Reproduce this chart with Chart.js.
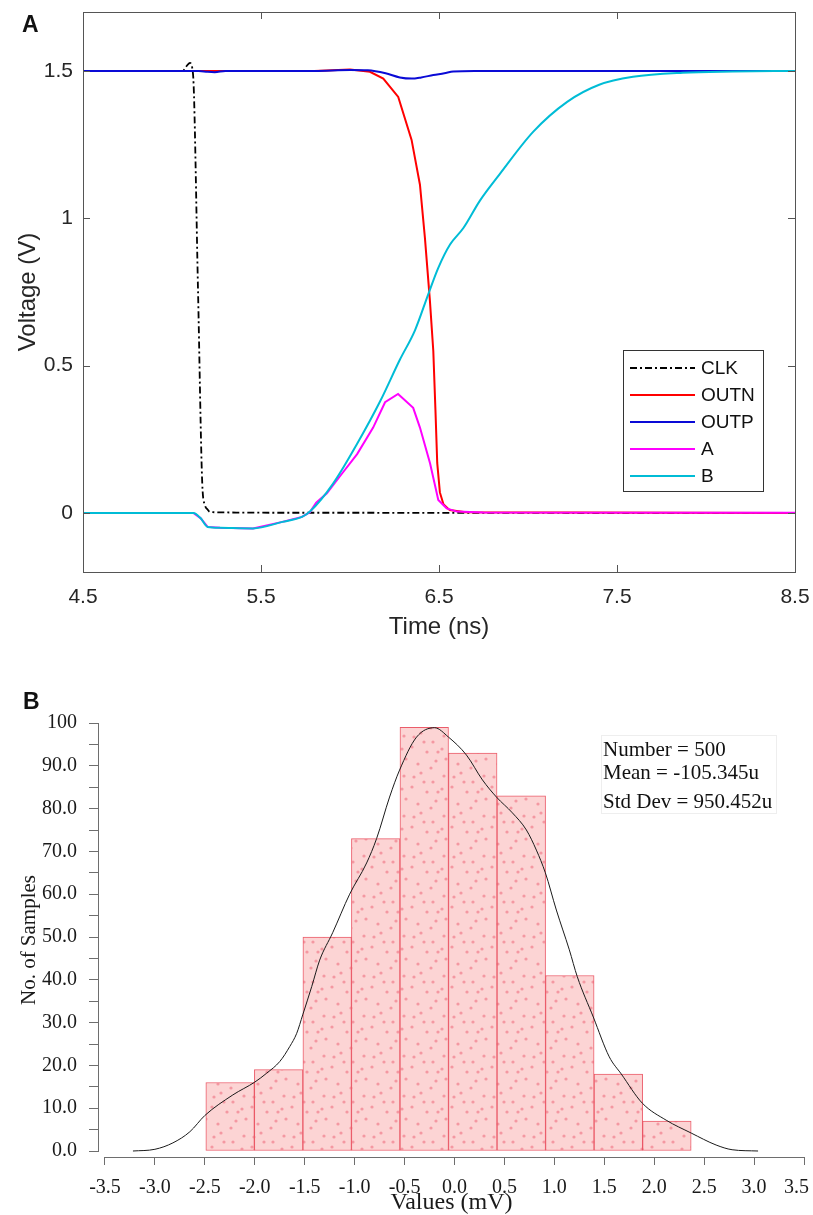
<!DOCTYPE html>
<html>
<head>
<meta charset="utf-8">
<title>Comparator transient and offset histogram</title>
<script src="https://cdn.jsdelivr.net/npm/chart.js@4.4.1/dist/chart.umd.min.js"></script>
<style>
  body { margin: 0; background: #fff; }
  #page { position: relative; width: 813px; height: 1215px; overflow: hidden; }
  canvas { position: absolute; left: 0; }
  #waveChart { top: 0; }
  #histChart { top: 650px; }
  .tag { position: absolute; font: bold 23px "Liberation Sans", Arial, sans-serif; color: #111; }
  #stats { position: absolute; left: 601px; top: 735px; width: 176px; height: 79px;
           border: 1px solid #eeeeee; box-sizing: border-box;
           font: 21px "Liberation Serif", "Times New Roman", serif; color: #111; }
  #stats span { position: absolute; left: 1px; white-space: nowrap; line-height: 24px; }
</style>
</head>
<body>
<div id="page">
  <canvas id="waveChart" width="813" height="650"></canvas>
  <canvas id="histChart" width="813" height="565"></canvas>
  <div class="tag" style="left:22px; top:11px;">A</div>
  <div class="tag" style="left:23px; top:688px;">B</div>
  <div id="stats">
    <span style="top:1px;">Number = 500</span>
    <span style="top:24px;">Mean = -105.345u</span>
    <span style="top:53px;">Std Dev = 950.452u</span>
  </div>
</div>
<script>
// transient waveforms (time in ns, voltage in V)
const clkT = [4.5, 5.0, 5.062, 5.08, 5.1, 5.118, 5.146, 5.17, 5.185, 5.2, 5.213, 5.3, 5.6, 6.0, 6.6, 8.5];
const clkV = [1.5, 1.5, 1.501, 1.515, 1.527, 1.49, 0.76, 0.1, 0.027, 0.012, 0.004, 0.002, 0.001, 0.001, 0.0005, 0];

const outnT = [4.5, 5.8, 6.0, 6.112, 6.187, 6.271, 6.346, 6.393, 6.421, 6.449, 6.468, 6.48, 6.49, 6.505, 6.525, 6.56, 6.65, 8.5];
const outnV = [1.5, 1.5, 1.505, 1.497, 1.474, 1.412, 1.266, 1.114, 0.933, 0.72, 0.55, 0.35, 0.17, 0.07, 0.03, 0.01, 0.003, 0];

const outpT = [4.5, 5.15, 5.2, 5.24, 5.3, 5.8, 6.0, 6.1, 6.2, 6.28, 6.346, 6.4, 6.468, 6.53, 6.58, 6.7, 8.5];
const outpV = [1.5, 1.5, 1.497, 1.496, 1.5, 1.5, 1.503, 1.502, 1.492, 1.478, 1.474, 1.478, 1.486, 1.492, 1.498, 1.5, 1.5];

const aT = [4.5, 5.1, 5.12, 5.16, 5.2, 5.27, 5.455, 5.62, 5.73, 5.775, 5.81, 5.87, 5.95, 6.04, 6.13, 6.197, 6.27, 6.355, 6.393, 6.45, 6.496, 6.543, 6.6, 6.75, 8.5];
const aV = [0, 0, 0, -0.017, -0.047, -0.05, -0.052, -0.03, -0.013, 0.003, 0.035, 0.067, 0.13, 0.2, 0.29, 0.376, 0.404, 0.357, 0.29, 0.168, 0.044, 0.016, 0.005, 0.002, 0.001];

const bT = [4.5, 5.1, 5.12, 5.16, 5.2, 5.27, 5.455, 5.62, 5.73, 5.775, 5.905, 6.04, 6.17, 6.28, 6.365, 6.44, 6.496, 6.562, 6.637, 6.73, 6.84, 7.03, 7.22, 7.4, 7.59, 7.87, 8.15, 8.5];
const bV = [0, 0, 0, -0.017, -0.047, -0.05, -0.052, -0.03, -0.013, 0.005, 0.1, 0.235, 0.38, 0.52, 0.62, 0.743, 0.832, 0.911, 0.967, 1.06, 1.149, 1.294, 1.395, 1.453, 1.48, 1.494, 1.498, 1.5];

const waveTicksX = [4.5, 5.5, 6.5, 7.5, 8.5];
const waveTicksY = [0, 0.5, 1, 1.5];

// offset histogram (mV) and its density curve
const binCenters = [-2.247, -1.761, -1.275, -0.789, -0.303, 0.183, 0.669, 1.155, 1.641, 2.127];
const binCounts = [16, 19, 50, 73, 99, 93, 83, 41, 18, 7];

const densX = [-3.22, -3.0, -2.82, -2.65, -2.5, -2.22, -2.0, -1.88, -1.75, -1.65, -1.58, -1.52, -1.43, -1.35, -1.22, -1.05, -0.88, -0.78, -0.65, -0.55, -0.38, -0.2, -0.06, 0.12, 0.28, 0.42, 0.58, 0.72, 0.82, 0.91, 1.02, 1.15, 1.23, 1.39, 1.55, 1.67, 1.88, 2.12, 2.37, 2.62, 2.78, 3.04];
const densY = [0, 0.4, 1.9, 4.5, 8.3, 13.1, 16.1, 18.2, 20.9, 24.4, 27.5, 31.8, 38.4, 44.6, 51, 60, 67.3, 73, 82.7, 89, 96.7, 98.9, 96.7, 92.5, 86.7, 82.7, 79, 75, 70.3, 65, 56.3, 47, 40.7, 31.3, 22, 18, 11.2, 7.2, 4.2, 1.4, 0.3, 0];

const histTicksX = [-3.5, -3.0, -2.5, -2.0, -1.5, -1.0, -0.5, 0.0, 0.5, 1.0, 1.5, 2.0, 2.5, 3.0, 3.5];
const histTicksY = [0, 5, 10, 15, 20, 25, 30, 35, 40, 45, 50, 55, 60, 65, 70, 75, 80, 85, 90, 95, 100];

const sans = '"Liberation Sans", Arial, Helvetica, sans-serif';
const serif = '"Liberation Serif", "Times New Roman", serif';

function toPoints(xs, ys) {
    return xs.map((x, i) => ({ x: x, y: ys[i] }));
}

// keep edge tick labels from shrinking the plot area
function fixSize(s, w, h) {
    if (w !== null) s.width = w;
    if (h !== null) s.height = h;
    s.paddingLeft = 0;
    s.paddingRight = 0;
    s.paddingTop = 0;
    s.paddingBottom = 0;
}

// box around the plot with inward tick marks on all four sides
const axesBox = {
    id: 'axesBox',
    afterDatasetsDraw(chart) {
        const { ctx, chartArea: a, scales: { x, y } } = chart;
        const len = 7;
        ctx.save();
        ctx.strokeStyle = '#555';
        ctx.lineWidth = 1;
        ctx.strokeRect(Math.round(a.left) + 0.5, Math.round(a.top) + 0.5,
            Math.round(a.right - a.left), Math.round(a.bottom - a.top));
        ctx.beginPath();
        waveTicksX.forEach(v => {
            const px = Math.round(x.getPixelForValue(v)) + 0.5;
            ctx.moveTo(px, a.bottom); ctx.lineTo(px, a.bottom - len);
            ctx.moveTo(px, a.top); ctx.lineTo(px, a.top + len);
        });
        waveTicksY.forEach(v => {
            const py = Math.round(y.getPixelForValue(v)) + 0.5;
            ctx.moveTo(a.left, py); ctx.lineTo(a.left + len, py);
            ctx.moveTo(a.right, py); ctx.lineTo(a.right - len, py);
        });
        ctx.stroke();
        ctx.restore();
    }
};

// legend box in the lower right of the waveform plot
const boxLegend = {
    id: 'boxLegend',
    afterDraw(chart) {
        const { ctx } = chart;
        const x0 = 623, y0 = 350, w = 140, h = 141;
        ctx.save();
        ctx.fillStyle = '#fff';
        ctx.fillRect(x0, y0, w, h);
        ctx.strokeStyle = '#333';
        ctx.lineWidth = 1;
        ctx.strokeRect(x0 + 0.5, y0 + 0.5, w, h);
        ctx.font = '19px ' + sans;
        ctx.textBaseline = 'middle';
        chart.data.datasets.forEach((ds, i) => {
            const yy = y0 + 18 + i * 27;
            ctx.strokeStyle = ds.borderColor;
            ctx.lineWidth = ds.borderWidth;
            ctx.setLineDash(ds.borderDash || []);
            ctx.beginPath();
            ctx.moveTo(630, yy);
            ctx.lineTo(695, yy);
            ctx.stroke();
            ctx.setLineDash([]);
            ctx.fillStyle = '#111';
            ctx.fillText(ds.label, 701, yy + 1);
        });
        ctx.restore();
    }
};

function waveSet(label, ts, vs, color, order, opts) {
    return Object.assign({
        label: label,
        data: toPoints(ts, vs),
        borderColor: color,
        borderWidth: 2,
        borderDash: [],
        pointRadius: 0,
        tension: 0,
        order: order
    }, opts || {});
}

new Chart(document.getElementById('waveChart'), {
    type: 'line',
    data: {
        datasets: [
            waveSet('CLK', clkT, clkV, '#000000', 5, { borderWidth: 1.8, borderDash: [7, 3, 2, 3], cubicInterpolationMode: 'monotone' }),
            waveSet('OUTN', outnT, outnV, '#ff0000', 4),
            waveSet('OUTP', outpT, outpV, '#0a0ad6', 3, { cubicInterpolationMode: 'monotone' }),
            waveSet('A', aT, aV, '#ff00ff', 2),
            waveSet('B', bT, bV, '#00bcd6', 1, { cubicInterpolationMode: 'monotone' })
        ]
    },
    options: {
        responsive: false,
        animation: false,
        layout: { padding: { top: 12, right: 18, left: 0, bottom: 0 } },
        plugins: { legend: { display: false }, tooltip: { enabled: false } },
        scales: {
            x: {
                type: 'linear', min: 4.5, max: 8.5,
                afterBuildTicks: s => { s.ticks = waveTicksX.map(v => ({ value: v })); },
                afterFit: s => fixSize(s, null, 78),
                grid: { display: false, drawTicks: false },
                border: { display: false },
                ticks: {
                    font: { family: sans, size: 21 }, color: '#262626', padding: 13,
                    maxRotation: 0, autoSkip: false,
                    callback: v => v.toFixed(1)
                },
                title: {
                    display: true, text: 'Time (ns)', color: '#262626',
                    font: { family: sans, size: 24 }, padding: { top: 0, bottom: 8 }
                }
            },
            y: {
                type: 'linear', min: -0.2, max: 1.7,
                afterBuildTicks: s => { s.ticks = waveTicksY.map(v => ({ value: v })); },
                afterFit: s => fixSize(s, 83, null),
                grid: { display: false, drawTicks: false },
                border: { display: false },
                ticks: {
                    font: { family: sans, size: 21 }, color: '#262626', padding: 10,
                    callback: v => String(v)
                },
                title: {
                    display: true, text: 'Voltage (V)', color: '#262626',
                    font: { family: sans, size: 24 }, padding: { top: 14, bottom: 0 }
                }
            }
        }
    },
    plugins: [axesBox, boxLegend]
});

// dotted pink fill for the histogram bars
function dotPattern() {
    const tile = document.createElement('canvas');
    tile.width = 40;
    tile.height = 40;
    const c = tile.getContext('2d');
    c.fillStyle = 'rgb(252, 212, 212)';
    c.fillRect(0, 0, 40, 40);
    c.fillStyle = 'rgb(244, 152, 162)';
    [[4, 6], [21, 3], [33, 12], [12, 17], [27, 22], [6, 29], [18, 34], [36, 31], [24, 12],
     [14, 7], [31, 38], [2, 19], [38, 22]].forEach(([px, py]) => {
        c.beginPath();
        c.arc(px, py, 1.6, 0, Math.PI * 2);
        c.fill();
    });
    return c.createPattern(tile, 'repeat');
}

// detached axis lines, drawn only over the labelled range
const openAxes = {
    id: 'openAxes',
    beforeDatasetsDraw(chart) {
        const { ctx, chartArea: a, scales: { x, y } } = chart;
        ctx.save();
        ctx.strokeStyle = '#6e6e6e';
        ctx.lineWidth = 1;
        ctx.beginPath();
        const lx = Math.round(a.left) - 0.5;
        ctx.moveTo(lx, y.getPixelForValue(histTicksY[histTicksY.length - 1]));
        ctx.lineTo(lx, y.getPixelForValue(0));
        const by = Math.round(a.bottom) + 0.5;
        ctx.moveTo(x.getPixelForValue(histTicksX[0]), by);
        ctx.lineTo(x.getPixelForValue(histTicksX[histTicksX.length - 1]), by);
        ctx.stroke();
        ctx.restore();
    }
};

const lastTickX = histTicksX[histTicksX.length - 1];

new Chart(document.getElementById('histChart'), {
    type: 'bar',
    data: {
        datasets: [
            {
                type: 'line',
                data: toPoints(densX, densY),
                borderColor: '#1a1a1a',
                borderWidth: 1,
                pointRadius: 0,
                cubicInterpolationMode: 'monotone',
                order: 0
            },
            {
                type: 'bar',
                data: toPoints(binCenters, binCounts),
                backgroundColor: dotPattern(),
                borderColor: 'rgba(232, 64, 80, 0.85)',
                borderWidth: 1,
                borderSkipped: false,
                barPercentage: 1,
                categoryPercentage: 1,
                order: 1
            }
        ]
    },
    options: {
        responsive: false,
        animation: false,
        layout: { padding: { top: 73, right: 9, left: 0, bottom: 0 } },
        plugins: { legend: { display: false }, tooltip: { enabled: false } },
        scales: {
            x: {
                type: 'linear', min: -3.56, max: 3.5, offset: false,
                afterBuildTicks: s => { s.ticks = histTicksX.map(v => ({ value: v })); },
                afterFit: s => fixSize(s, null, 58),
                grid: { drawOnChartArea: false, drawTicks: true, tickLength: 8, color: '#6e6e6e', offset: false },
                border: { display: false },
                ticks: {
                    font: { family: serif, size: 20 }, color: '#1a1a1a', padding: 11,
                    maxRotation: 0, autoSkip: false,
                    // the last label sits a little left of its tick so it stays on the page
                    callback: v => v === lastTickX ? v.toFixed(1) + '\u2002 ' : v.toFixed(1)
                },
                title: {
                    display: true, text: 'Values (mV)', color: '#1a1a1a',
                    font: { family: serif, size: 24, lineHeight: 1 }, padding: { top: 0, bottom: 0 }
                }
            },
            y: {
                type: 'linear', min: -1.4, max: 100,
                afterBuildTicks: s => { s.ticks = histTicksY.map(v => ({ value: v })); },
                afterFit: s => fixSize(s, 99, null),
                grid: { drawOnChartArea: false, drawTicks: true, tickLength: 10, color: '#6e6e6e' },
                border: { display: false },
                ticks: {
                    font: { family: serif, size: 20 }, color: '#1a1a1a', padding: 12,
                    autoSkip: false,
                    callback: v => v % 10 !== 0 ? '' : (v === 100 ? '100' : v.toFixed(1))
                },
                title: {
                    display: true, text: 'No. of Samples', color: '#1a1a1a',
                    font: { family: serif, size: 21 }, padding: { top: 17, bottom: 0 }
                }
            }
        }
    },
    plugins: [openAxes]
});
</script>
</body>
</html>
